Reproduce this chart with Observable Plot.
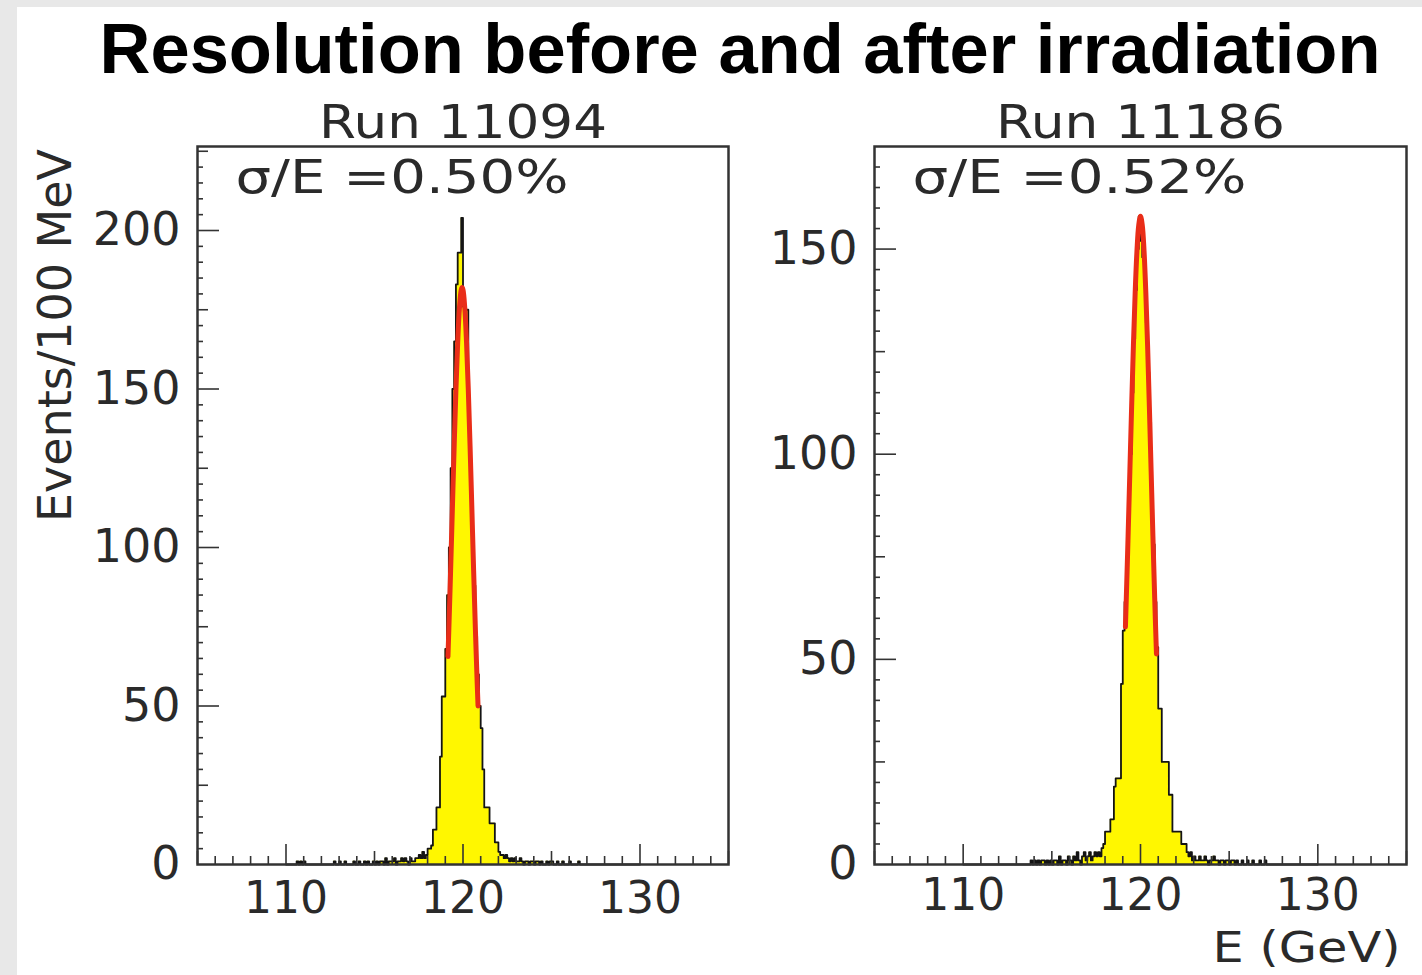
<!DOCTYPE html>
<html><head><meta charset="utf-8">
<script src="https://cdn.jsdelivr.net/npm/d3@7"></script>
<script src="https://cdn.jsdelivr.net/npm/@observablehq/plot@0.6"></script>
<style>
html,body{margin:0;padding:0;width:1422px;height:975px;overflow:hidden;background:#e8e8e8;}
#sheet{position:absolute;left:17px;top:7px;width:1405px;height:968px;background:#fff;}
#title{position:absolute;left:60px;top:14px;width:1360px;text-align:center;font-family:"Liberation Sans",Arial,sans-serif;font-weight:bold;font-size:70.5px;line-height:70.5px;color:#000;white-space:nowrap;}
#p1{position:absolute;left:0;top:90px;}
#p2{position:absolute;left:740px;top:90px;}
</style></head><body>
<div id="sheet"></div>
<div id="title">Resolution before and after irradiation</div>
<div id="p1"></div><div id="p2"></div>
<script>
// ---- data (bins of 100 MeV starting at 110.0 GeV) ----
const binStart = 110.0;
const binWidth = 0.1;
const run11094Counts = [
  0,0,0,0,0,0,1,0,1,0,        // 110
  1,0,0,0,0,0,0,0,0,0,        // 111
  0,0,0,0,0,0,0,1,0,0,        // 112
  1,0,0,1,0,0,0,0,1,0,        // 113
  0,1,0,0,1,0,1,0,0,1,        // 114
  0,1,0,1,1,0,2,0,1,1,        // 115
  1,2,0,1,1,2,1,2,1,0,        // 116
  2,1,1,2,2,3,2,4,2,3,        // 117
  5,5,6,11,11,18,18,34,53,53, // 118
  68,85,100,125,150,165,183,193,193,204, // 119
  176,175,175,140,122,105,88,72,60,50,   // 120
  43,30,18,18,18,13,13,13,7,7,           // 121
  4,3,3,2,3,2,1,2,1,2,        // 122
  1,1,2,1,0,1,1,0,1,1,        // 123
  0,1,1,0,1,0,0,1,0,1,        // 124
  1,0,0,1,0,0,1,0,0,0,        // 125
  1,0,0,0,0,1,0,0,0,0,        // 126
  0,0,0,0,0,0,0,0,0,0,        // 127
  0,0,0,0,0,0,0,0,0,0,        // 128
  0,0,0,0,0,0,0,0,0,0         // 129
];
const run11186Counts = [
  0,0,0,0,0,0,0,0,0,0,        // 110
  0,0,0,0,0,0,0,0,0,0,        // 111
  0,0,0,0,0,0,0,0,0,0,        // 112
  0,0,0,0,0,0,0,0,1,0,        // 113
  1,0,1,0,1,1,0,1,0,1,        // 114
  0,1,1,0,2,0,1,1,0,2,        // 115
  1,0,2,1,3,1,0,2,3,1,        // 116
  2,3,1,2,3,2,3,2,4,5,        // 117
  8,8,8,11,11,19,21,21,21,44, // 118
  57,64,75,88,100,115,128,140,150,158,   // 119
  152,148,142,132,120,108,92,78,64,53,   // 120
  38,38,25,25,25,25,17,17,8,8,           // 121
  8,8,8,5,5,5,3,2,3,1,        // 122
  2,1,1,2,1,1,2,1,0,1,        // 123
  1,2,1,1,0,1,1,0,1,1,        // 124
  0,1,1,0,1,0,0,1,0,0,        // 125
  1,0,0,1,0,0,0,1,0,0,        // 126
  1,0,0,0,0,0,0,0,0,0,        // 127
  0,0,0,0,0,0,0,0,0,0,        // 128
  0,0,0,0,0,0,0,0,0,0         // 129
];
// Gaussian fit curves
const fit11094E = [119.15,119.2,119.3,119.4,119.5,119.6,119.7,119.8,119.9,119.95,120.0,120.1,120.2,120.3,120.4,120.5,120.6,120.7,120.8,120.85];
const fit11094Y = [65.6,74.2,92.8,112.4,131.8,149.7,164.7,175.6,181.3,182,181.3,175.6,164.7,149.7,131.8,112.4,92.8,74.2,57.5,50.0];
const fit11186E = [119.15,119.2,119.3,119.4,119.5,119.6,119.7,119.8,119.9,120.0,120.1,120.2,120.3,120.4,120.5,120.6,120.7,120.8,120.9];
const fit11186Y = [57.9,65.0,80.0,95.8,111.6,126.5,139.4,149.5,155.8,158,155.8,149.5,139.4,126.5,111.6,95.8,80.0,65.0,51.3];

const xTickLabels = [110, 120, 130];
const yTickLabels11094 = [0, 50, 100, 150, 200];
const yTickLabels11186 = [0, 50, 100, 150];
const runTitles = ["Run 11094", "Run 11186"];
const resolutionLabels = ["σ/E =0.50%", "σ/E =0.52%"];
const yAxisLabel = "Events/100 MeV";
const xAxisLabel = "E (GeV)";

// ---- styling ----
const textStretch = {"Run 11094": 288, "Run 11186": 289, "σ/E =0.50%": 333, "σ/E =0.52%": 334, "E (GeV)": 188};
const font = {fontFamily: "DejaVu Sans", fontSize: 46};
const ink = "#2a2a2a";

function histTable(counts) {
  const rows = counts.map((c, i) => ({x: +(binStart + i * binWidth).toFixed(2), y: c}));
  rows.push({x: +(binStart + counts.length * binWidth).toFixed(2), y: counts[counts.length - 1]});
  return rows;
}

function panel(o) {
  const height = 880, marginTop = 56, innerH = 718;
  const marginBottom = height - marginTop - innerH;
  const innerW = o.width - o.marginLeft - o.marginRight;
  const hist = histTable(o.counts);
  const fit = o.fitE.map((e, i) => ({x: e, y: o.fitY[i]}));
  const xMinor = d3.range(106, 135).filter(v => v % 5 !== 0);
  const xMid = d3.range(105, 136, 5).filter(v => v % 10 !== 0);
  const yMinor = d3.range(5, o.yMax, 5).filter(v => v % 25 !== 0);
  const yMid = d3.range(25, o.yMax, 50);
  const yMajor = o.yLabels.filter(v => v > 0);
  const tk = {stroke: "#333", strokeWidth: 1.6};
  const marks = [
    Plot.areaY(hist, {x: "x", y: "y", curve: "step-after", fill: "#fff700"}),
    Plot.lineY(hist, {x: "x", y: "y", curve: "step-after", stroke: "#141414", strokeWidth: 1.8}),
    Plot.line(fit, {x: "x", y: "y", curve: "catmull-rom", stroke: "#e92d18", strokeWidth: 5}),
    Plot.tickX(xMinor, {x: d => d, insetTop: innerH - 8, ...tk}),
    Plot.tickX(xMid, {x: d => d, insetTop: innerH - 13, ...tk}),
    Plot.tickX(xTickLabels, {x: d => d, insetTop: innerH - 20, ...tk}),
    Plot.tickY(yMinor, {y: d => d, insetRight: innerW - 6, ...tk}),
    Plot.tickY(yMid, {y: d => d, insetRight: innerW - 11, ...tk}),
    Plot.tickY(yMajor, {y: d => d, insetRight: innerW - 22, ...tk}),
    Plot.axisX(xTickLabels, {tickSize: 0, tickPadding: o.xPad, label: null, tickFormat: d => String(d), color: ink, fontFamily: font.fontFamily, fontSize: 44}),
    Plot.axisY(o.yLabels, {tickSize: 0, tickPadding: 17, label: null, tickFormat: d => String(d), color: ink, ...font}),
    Plot.frame({stroke: "#333", strokeWidth: 2.5}),
    Plot.text([o.title], {text: d => d, frameAnchor: "top", dy: -9, lineAnchor: "bottom", fill: ink, ...font}),
    Plot.text([o.reso], {text: d => d, frameAnchor: "top-left", dx: 38, dy: 46, textAnchor: "start", lineAnchor: "bottom", fill: ink, ...font})
  ];
  if (o.yLabel) marks.push(Plot.text([o.yLabel], {text: d => d, frameAnchor: "left", dx: -141, dy: -170, rotate: -90, textAnchor: "middle", lineAnchor: "middle", fill: ink, ...font}));
  if (o.xLabel) marks.push(Plot.text([o.xLabel], {text: d => d, frameAnchor: "bottom-right", dx: -6, dy: 97, textAnchor: "end", lineAnchor: "bottom", fill: ink, fontFamily: font.fontFamily, fontSize: 42}));
  const svg = Plot.plot({
    width: o.width, height,
    marginTop, marginBottom, marginLeft: o.marginLeft, marginRight: o.marginRight,
    x: {domain: [105, 135]},
    y: {domain: [0, o.yMax]},
    style: {background: "transparent", overflow: "visible"},
    marks
  });
  d3.select(svg).selectAll("text").each(function () {
    const t = this.textContent;
    if (textStretch[t]) {
      this.setAttribute("textLength", textStretch[t]);
      this.setAttribute("lengthAdjust", "spacingAndGlyphs");
    }
  });
  return svg;
}

document.getElementById("p1").appendChild(panel({
  counts: run11094Counts, fitE: fit11094E, fitY: fit11094Y, yMax: 226.5, yLabels: yTickLabels11094,
  title: runTitles[0], reso: resolutionLabels[0], width: 740, marginLeft: 197, marginRight: 12, yLabel: yAxisLabel, xPad: 17
}));
document.getElementById("p2").appendChild(panel({
  counts: run11186Counts, fitE: fit11186E, fitY: fit11186Y, yMax: 175, yLabels: yTickLabels11186,
  title: runTitles[1], reso: resolutionLabels[1], width: 682, marginLeft: 134, marginRight: 16, xLabel: xAxisLabel, xPad: 14
}));
</script></body></html>
